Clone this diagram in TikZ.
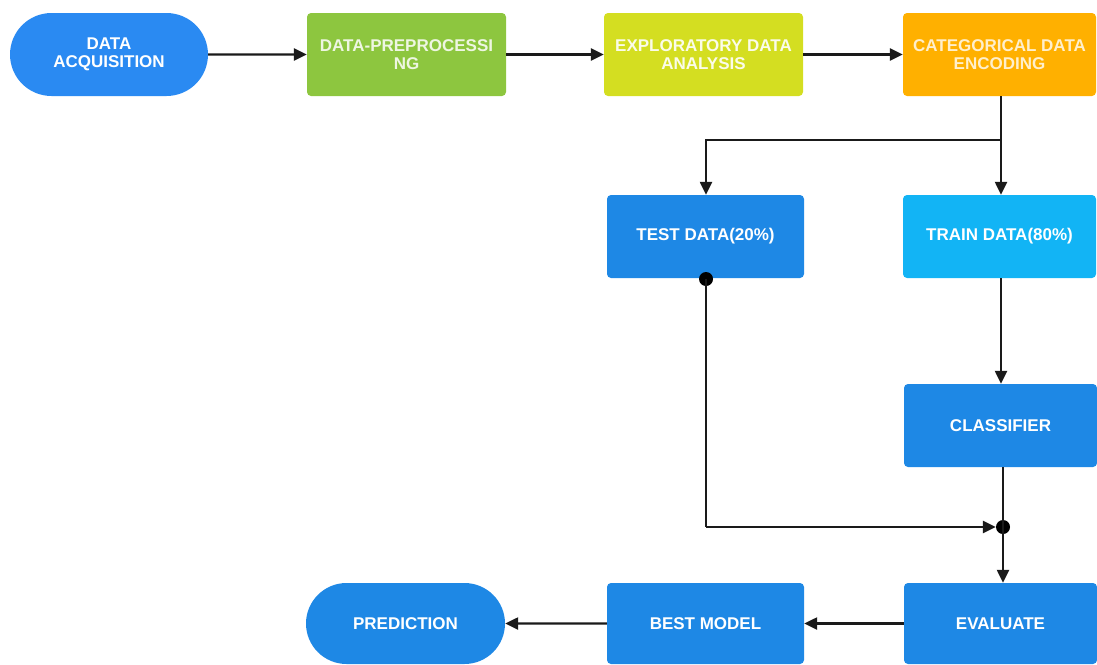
\documentclass[tikz,border=0pt]{standalone}
\usepackage{fontspec}
\setmainfont{Liberation Sans}
\usetikzlibrary{arrows.meta,shapes.misc}
\definecolor{cblue}{HTML}{1E88E5}
\definecolor{cacq}{HTML}{2A8AF2}
\definecolor{cgreen}{HTML}{8DC63F}
\definecolor{cyel}{HTML}{D4DE21}
\definecolor{corange}{HTML}{FFB000}
\definecolor{clight}{HTML}{12B4F5}
\definecolor{cline}{HTML}{1A1A1A}
\begin{document}
\begin{tikzpicture}[x=1pt,y=-1pt,
  box/.style={rectangle, rounded corners=4pt, minimum height=83pt, inner sep=0pt,
    align=center, text=white, font=\fontsize{17}{17.5}\selectfont\bfseries},
  term/.style={rounded rectangle, minimum height=83pt, inner sep=0pt,
    align=center, text=white, font=\fontsize{17}{17.5}\selectfont\bfseries},
  conn/.style={draw=cline, line width=2.4pt, -{Triangle[length=13pt,width=12pt]}},
  plain/.style={draw=cline, line width=2.4pt},
  dot/.style={circle, fill=black, inner sep=0pt, minimum size=14pt}]
\useasboundingbox (0,0) rectangle (1097,664);
% top row
\node[term, fill=cacq, minimum width=198pt] (acq) at (109,54.5) {DATA\\ACQUISITION};
\node[box, fill=cgreen, minimum width=199pt, text=white!85!cgreen] (pre) at (406.5,54.5) {DATA-PREPROCESSI\\NG};
\node[box, fill=cyel, minimum width=199pt, text=white!90!cyel] (eda) at (703.5,54.5) {EXPLORATORY DATA\\ANALYSIS};
\node[box, fill=corange, minimum width=193pt, text=white!80!corange] (enc) at (999.5,54.5) {CATEGORICAL DATA\\ENCODING};
% middle
\node[box, fill=cblue, minimum width=197pt] (test) at (705.5,236.5) {TEST DATA(20\%)};
\node[box, fill=clight, minimum width=193pt] (train) at (999.5,236.5) {TRAIN DATA(80\%)};
\node[box, fill=cblue, minimum width=193pt] (clf) at (1000.5,425.5) {CLASSIFIER};
% bottom row
\node[box, fill=cblue, minimum width=193pt, minimum height=81pt] (eval) at (1000.5,623.5) {EVALUATE};
\node[box, fill=cblue, minimum width=197pt, minimum height=81pt] (best) at (705.5,623.5) {BEST MODEL};
\node[term, fill=cblue, minimum width=199pt, minimum height=81pt] (pred) at (405.5,623.5) {PREDICTION};
% helper coordinates
\coordinate (split) at (1001,140);
\coordinate (tsplit) at (706,140);
\coordinate (corner) at (706,527);
\node[dot] (jn) at (1003,527) {};
\node[dot] (tdot) at (706,279) {};
% connectors
\draw[conn] (acq) -- (pre);
\draw[conn] (pre) -- (eda);
\draw[conn] (eda) -- (enc);
\draw[plain] (enc.south -| split) -- (split);
\draw[conn] (split) -- (train.north -| split);
\draw[conn] (split) -- (tsplit) -- (test.north -| tsplit);
\draw[conn] (train.south -| split) -- (clf.north -| split);
\draw[plain] (tdot.center) -- (corner);
\draw[conn] (corner) -- (jn.west);
\draw[plain] (clf.south -| jn) -- (jn.center);
\draw[conn] (jn.center) -- (eval.north -| jn);
\draw[conn] (eval) -- (best);
\draw[conn] (best) -- (pred);
\end{tikzpicture}
\end{document}
